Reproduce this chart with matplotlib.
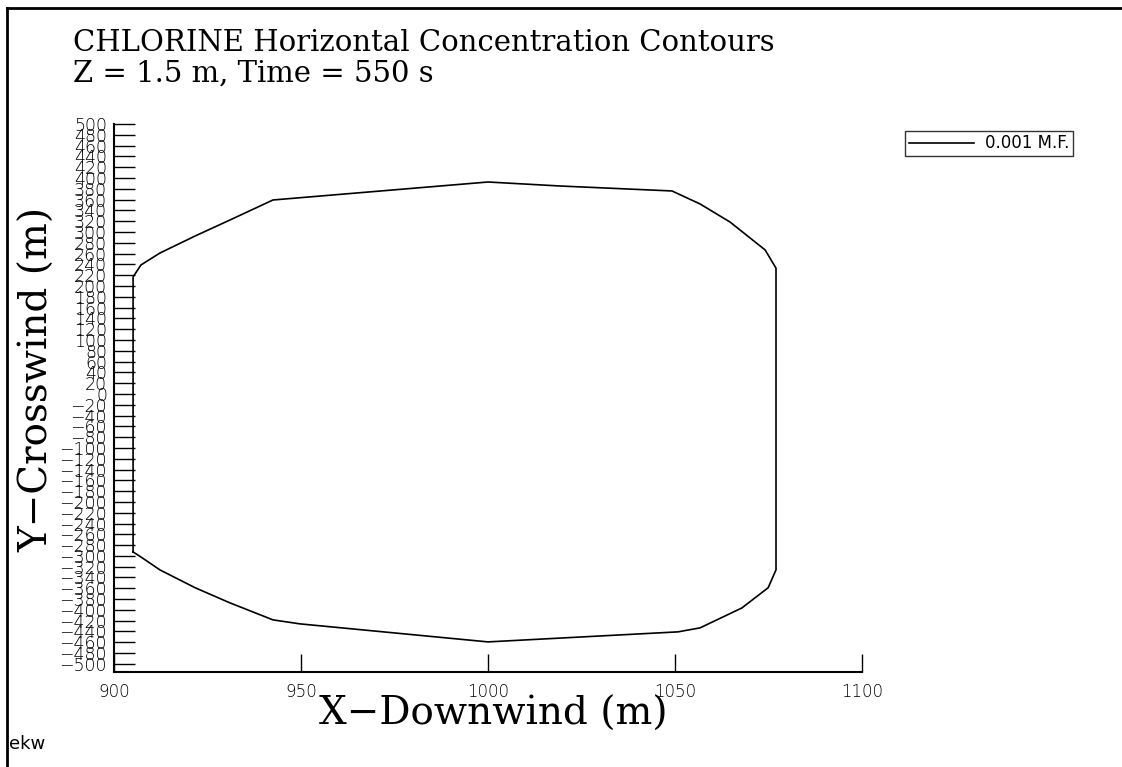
import numpy as np
import matplotlib
matplotlib.use("Agg")
from matplotlib import pyplot as plt
from matplotlib.lines import Line2D

# contour outline of the 0.001 mole fraction level (x downwind, y crosswind)
contour_x = [905.1, 905.1, 907.2, 912.3, 921.7, 931.0, 942.5, 1000.0, 1019.3,
             1049.2, 1056.7, 1064.7, 1074.1, 1077.0, 1077.0, 1074.9, 1067.9,
             1056.7, 1050.8, 1000.0, 949.7, 942.5, 931.0, 921.7, 912.3, 907.2,
             905.1]
contour_y = [-292.6, 216.7, 238.9, 261.1, 292.6, 322.2, 359.3, 392.6, 385.2,
             376.0, 351.9, 318.5, 266.7, 233.0, -325.9, -359.0, -396.3,
             -433.3, -440.7, -459.3, -425.9, -418.5, -387.0, -359.0, -326.0,
             -302.0, -292.6]
contour_label = "0.001 M.F."

x_ticks = [900, 950, 1000, 1050, 1100]
y_ticks = list(range(-500, 501, 20))

title_lines = ["CHLORINE Horizontal Concentration Contours",
               "Z = 1.5 m, Time = 550 s"]

fig = plt.figure(figsize=(11.22, 7.67), dpi=100)
ax = fig.add_axes([0.1016, 0.1239, 0.6667, 0.7144])

ax.plot(contour_x, contour_y, color="black", linewidth=1.2, label=contour_label)

ax.set_xlim(900, 1100)
ax.set_ylim(-515, 500)
ax.set_xticks(x_ticks)
ax.set_yticks(y_ticks)
ax.tick_params(axis="y", direction="in", length=15, width=1.0, labelsize=12.5, pad=5)
ax.tick_params(axis="x", direction="in", length=13, width=1.0, labelsize=12, pad=8)
for lbl in ax.get_xticklabels() + ax.get_yticklabels():
    lbl.set_fontfamily("DejaVu Sans")
    lbl.set_fontweight("light")

ax.spines["top"].set_visible(False)
ax.spines["right"].set_visible(False)
ax.spines["left"].set_linewidth(1.5)
ax.spines["bottom"].set_linewidth(1.5)

ax.set_xlabel("X\u2212Downwind (m)", fontsize=28, family="DejaVu Serif")
ax.set_ylabel("Y\u2212Crosswind (m)", fontsize=28, family="DejaVu Serif")
ax.xaxis.set_label_coords(0.507, -0.044)
ax.yaxis.set_label_coords(-0.102, 0.533)
ax.yaxis.label.set_va("center")

fig.text(0.065, 0.944, title_lines[0], fontsize=21, family="DejaVu Serif", va="center")
fig.text(0.065, 0.904, title_lines[1], fontsize=21, family="DejaVu Serif", va="center")

leg = ax.legend(loc="upper left", bbox_to_anchor=(0.807, 0.829), bbox_transform=fig.transFigure,
                frameon=True, fancybox=False, edgecolor="black", fontsize=12,
                handlelength=3.9, handletextpad=0.7, borderpad=0.2, borderaxespad=0)
leg.get_frame().set_linewidth(1.0)

fig.text(0.008, 0.03, "ekw", fontsize=13, family="DejaVu Sans", va="center")

# outer frame
fig.add_artist(Line2D([0.0065, 0.0065], [0.0, 0.99], color="black", linewidth=2, transform=fig.transFigure))
fig.add_artist(Line2D([0.0065, 1.0], [0.99, 0.99], color="black", linewidth=2, transform=fig.transFigure))

fig.savefig("out.png", dpi=100)
